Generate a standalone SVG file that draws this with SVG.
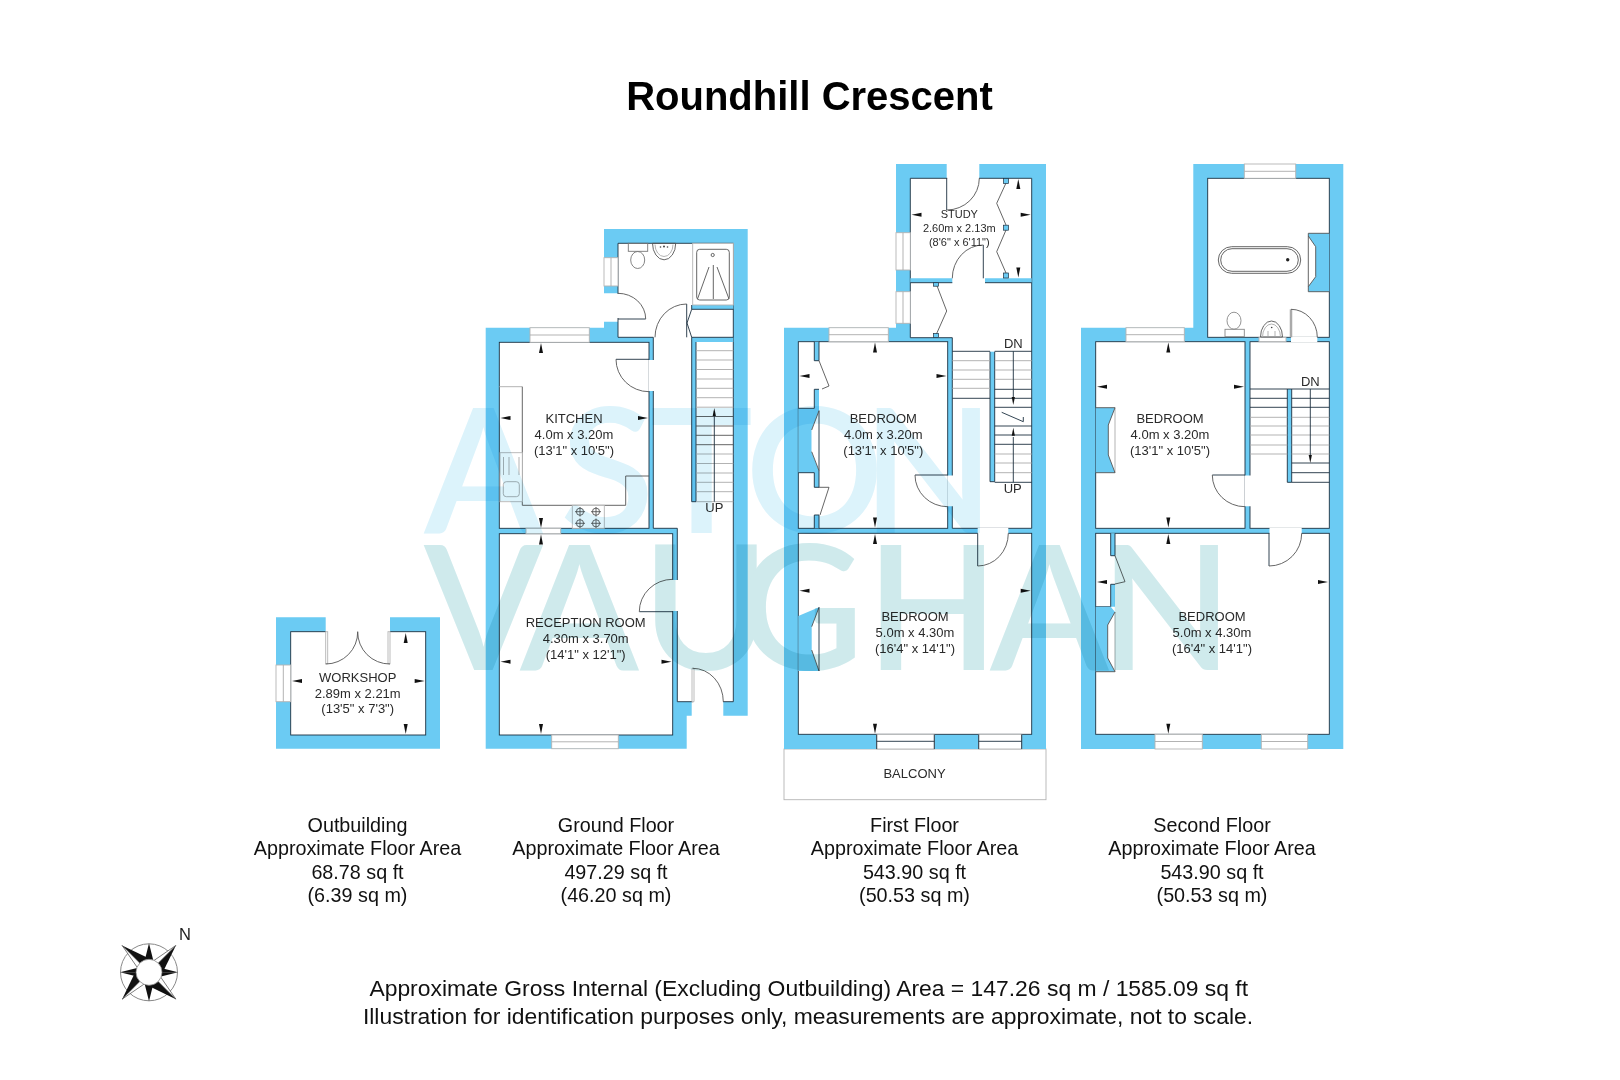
<svg xmlns="http://www.w3.org/2000/svg" width="1620" height="1080" viewBox="0 0 1620 1080">
<style>
text{font-family:"Liberation Sans",Arial,sans-serif;fill:#222}
.t{font-size:13px;text-anchor:middle;fill:#2a2a2a}
.s{font-size:11px;text-anchor:middle;fill:#2a2a2a}
.c{font-size:19.75px;text-anchor:middle;fill:#111}
.b{font-size:22.9px;text-anchor:middle;fill:#111}
.w{fill:#6bcbf3}
.r{fill:#fff;stroke:#1c3040;stroke-width:.9}
.g{fill:#fff;stroke:none}
.l{fill:none;stroke:#1c3040;stroke-width:.9}
.a{fill:none;stroke:#555;stroke-width:.9}
.h{fill:none;stroke:#aaa;stroke-width:.9}
.win{fill:#fff;stroke:#b4b4b4;stroke-width:.9}
.wm{font-family:Lato,"Open Sans",sans-serif;font-weight:600;font-size:173px}
</style>
<defs>
<path id="ar" d="M0,0L2,10H-2Z" fill="#111"/>
<g id="spk"><path d="M0,-38L10,-9L0,-9Z" fill="#111"/><path d="M0,-38L-5,-11L0,-11Z" fill="#fff" stroke="#333" stroke-width=".6"/></g>
<g id="spc"><path d="M0,-29L4.5,-11L0,-11Z" fill="#111"/><path d="M0,-29L-4.5,-11L0,-11Z" fill="#111"/></g>
</defs>

<text x="809.5" y="109.6" font-size="40" font-weight="700" text-anchor="middle" style="fill:#000">Roundhill Crescent</text>

<g id="outbuilding">
<path class="w" d="M276,617.3H325.7V631.7H390V617.3H440V748.7H276Z"/>
<rect class="r" x="290.7" y="631.7" width="135" height="103.3"/>
<path class="g" d="M326,630H390V633H326Z"/>
<rect class="win" x="276" y="665" width="14.7" height="36.7"/><path class="h" d="M283.3,665V701.7"/>
<rect class="win" x="325.7" y="631.7" width="2" height="32"/><rect class="win" x="388" y="631.7" width="2" height="32"/>
<path class="a" d="M325.7,664A32,32 0 0 0 357.7,631.7M390,664A32,32 0 0 1 357.7,631.7"/>
<use href="#ar" transform="translate(405.7,633)"/>
<use href="#ar" transform="translate(405.7,734) rotate(180)"/>
<use href="#ar" transform="translate(292,681) rotate(-90)"/>
<use href="#ar" transform="translate(424.7,681) rotate(90)"/>
<text class="t" x="357.7" y="681.7">WORKSHOP</text><text class="t" x="357.7" y="697.5">2.89m x 2.21m</text><text class="t" x="357.7" y="713.3">(13'5" x 7'3")</text>
</g>

<g id="ground-floor">
<path class="w" d="M485.7,327.7H604V321.7H618V293.3H604V229H747.7V715.7H723.3V701.7H691.7V715.7H686.7V748.7H485.7Z"/>
<path class="r" d="M618,243.3H733.3V701.7H677.3V528.3H653.3V337.3H618Z"/>
<path class="g" d="M617,294H619.5V318H617ZM693.2,700.5H723V703H693.2Z"/>
<path class="w" d="M691.7,305H733.3V309.3H691.7ZM691.7,337.3H733.3V342H696V501.7H691.7Z"/>
<path class="l" d="M691.7,309.3H733.3M691.7,337.3H733.3M691.7,305V309.3M691.7,337.3V501.7H696V342"/>
<rect class="r" x="499.3" y="342.3" width="149.7" height="186"/>
<rect class="r" x="499.3" y="533.7" width="173.4" height="201.3"/>
<path class="g" d="M648.4,360H654V391H648.4ZM672,580H678V611H672Z"/>
<rect class="win" x="526" y="528.3" width="34.7" height="5.4"/>
<rect class="win" x="530" y="327.7" width="59.3" height="14.6"/><path class="h" d="M530,335H589.3"/>
<rect class="win" x="604" y="257.7" width="14" height="28.3"/><path class="h" d="M611,257.7V286"/>
<rect class="win" x="551.7" y="735" width="66.6" height="13.7"/><path class="h" d="M551.7,741.8H618.3"/>
<path class="l" d="M616,359.3H649M639.3,611.7H672.7M618,319H645.7M686.7,304V337.3"/>
<path class="a" d="M616,359.3A33,32.4 0 0 0 649,391.7M639.3,611.7A33.4,32.4 0 0 1 672.7,579.3M618,293.3A27.7,25.7 0 0 1 645.7,319M655,337.3A31.7,33.3 0 0 1 686.7,304"/>
<path class="win" d="M692,668.3H694V701.7H692Z"/>
<path class="a" d="M692.7,668.3A30.6,33.4 0 0 1 723.3,701.7"/>
<path class="l" d="M691.7,309.3L687,323L691.7,337.3"/>
<path class="h" d="M499.3,386.7H522.3"/>
<path class="h" d="M522.3,386.7V505.3H625.7V476H649" style="stroke:#555"/>
<rect class="win" x="500" y="452.7" width="22.3" height="49"/>
<path class="h" d="M503.5,457V475M509,457V475M519,457V475"/>
<rect class="h" x="503.3" y="481.7" width="16" height="15" rx="3"/>
<rect class="win" x="572.3" y="505.3" width="32" height="23"/>
<g class="a"><circle cx="580" cy="511.7" r="3.6"/><circle cx="596" cy="511.7" r="3.6"/><circle cx="580" cy="523.3" r="3.6"/><circle cx="596" cy="523.3" r="3.6"/>
<path d="M575,511.7H585M580,507V516.5M591,511.7H601M596,507V516.5M575,523.3H585M580,518.5V528M591,523.3H601M596,518.5V528"/></g>
<rect class="win" x="692.7" y="243.3" width="40.6" height="61.7"/>
<rect class="a" x="696.7" y="249.3" width="32.6" height="50.7" rx="3"/>
<path class="a" d="M709,267L697.5,299M717,267L729,299M713.3,265V299"/><circle class="a" cx="712.7" cy="255" r="1.6"/>
<rect class="a" x="628.3" y="243.3" width="19.4" height="8" style="stroke:#777"/>
<ellipse class="a" cx="637.7" cy="260" rx="7" ry="8.5" style="stroke:#777"/>
<path class="a" d="M652.5,243.3A11.6,16.5 0 0 0 675.7,243.3Z" style="stroke:#555"/><path class="h" d="M655,244.5A9,12 0 0 0 673,244.5"/><circle cx="664" cy="246.5" r="1" fill="#444"/><circle cx="660.5" cy="247" r=".8" fill="#444"/><circle cx="667.5" cy="247" r=".8" fill="#444"/>
<g id="stairs-ground" class="h"><path d="M696,350.7H733.3M696,360H733.3M696,369.5H733.3M696,379H733.3M696,388.3H733.3M696,397.7H733.3M696,407.2H733.3"/><path style="stroke:#555" d="M696,416.5H733.3M696,426H733.3M696,435.3H733.3M696,444.7H733.3"/><path d="M696,454H733.3M696,463.5H733.3M696,473H733.3M696,482.3H733.3M696,491.7H733.3M696,501.7H733.3"/></g>
<path class="l" d="M714.3,501.7V411"/><use href="#ar" transform="translate(714.3,408) scale(.8)"/>
<use href="#ar" transform="translate(541,343)"/>
<use href="#ar" transform="translate(541,528) rotate(180)"/>
<use href="#ar" transform="translate(500.5,418) rotate(-90)"/>
<use href="#ar" transform="translate(648,418) rotate(90)"/>
<use href="#ar" transform="translate(541,534.5)"/>
<use href="#ar" transform="translate(541,734) rotate(180)"/>
<use href="#ar" transform="translate(500.5,661.7) rotate(-90)"/>
<use href="#ar" transform="translate(671.5,661.7) rotate(90)"/>
<text class="t" x="574" y="422.5">KITCHEN</text><text class="t" x="574" y="438.5">4.0m x 3.20m</text><text class="t" x="574" y="454.7">(13'1" x 10'5")</text>
<text class="t" x="585.7" y="626.5">RECEPTION ROOM</text><text class="t" x="585.7" y="642.5">4.30m x 3.70m</text><text class="t" x="585.7" y="658.5">(14'1" x 12'1")</text>
<text class="t" x="714.3" y="512.3">UP</text>
</g>

<g id="first-floor">
<rect x="784" y="749" width="262" height="50.7" fill="#fff" stroke="#b4b4b4" stroke-width=".9"/>
<path class="w" d="M784,327.7H896V164H946.7V178.3H979.3V164H1046V749H784Z"/>
<path class="r" d="M910.3,178.3H1031.7V528.3H952.3V337.7H910.3Z"/>
<path class="g" d="M947.2,177H979V179.5H947.2Z"/>
<path class="w" d="M910.3,278.3H952.3V282.7H910.3ZM985,278.3H1031.7V282.7H985Z"/>
<path class="l" d="M910.3,282.7H952.3M985,282.7H1031.7"/>
<rect class="r" x="798.3" y="341.7" width="149.4" height="186.6"/>
<rect class="r" x="798.3" y="533.3" width="233.4" height="201"/>
<path class="g" d="M947.2,475.5H953V506.2H947.2ZM977.7,527.8H1008.3V534H977.7Z"/>
<rect class="win" x="829" y="327.7" width="59.3" height="14"/><path class="h" d="M829,334.7H888.3"/>
<rect class="win" x="896" y="232.7" width="14.3" height="37.3"/><path class="h" d="M903,232.7V270"/>
<rect class="win" x="896" y="291.7" width="14.3" height="31.6"/><path class="h" d="M903,291.7V323.3"/>
<rect class="win" x="876.7" y="734.3" width="57.6" height="14.7"/><path class="l" d="M876.7,741.3H934.3M876.7,734.3V749M934.3,734.3V749"/>
<rect class="win" x="978.7" y="734.3" width="43" height="14.7"/><path class="l" d="M978.7,741.3H1021.7M978.7,734.3V749M1021.7,734.3V749"/>
<path class="w" d="M798.3,408.3H814.3V389.3H819V410.7L811.7,430V451.7L819,470.7V487.3H814.3V472.7H798.3Z"/>
<path class="w" d="M814.3,341.7H819V360.7H814.3ZM814.3,515H819V528.3H814.3Z"/>
<path class="g" d="M811.7,430L819,410.7V470.7L811.7,451.7Z"/>
<path class="l" d="M798.3,408.3H814.3V389.3H819M819,410.7V470.7M819,470.7V487.3H814.3V472.7H798.3M814.3,341.7V360.7H819V341.7M814.3,528.3V515H819V528.3"/>
<path class="a" d="M811.7,430L819,410.7M811.7,451.7L819,470.7"/>
<path class="a" d="M819,360.7L829,386L822,389M819,487.3H829L820,515"/>
<path class="w" d="M798.3,616L819,607.3V671H798.3Z"/>
<path class="g" d="M811.7,626.7L819,607.3V671L811.7,650Z"/>
<path class="a" d="M811.7,626.7L819,607.3M811.7,650L819,671"/><path class="l" d="M819,607.3V671"/>
<path class="l" d="M915,475H947.7M946.7,178.3V210M983.3,245V278.3M977.7,533.3V566"/>
<path class="a" d="M915,475A32.7,31.7 0 0 0 947.7,506.7M946.7,210A32.6,31.7 0 0 0 979.3,178.3M952.3,278.3A31,33.3 0 0 1 983.3,245M977.7,566A30.6,32.7 0 0 0 1008.3,533.3"/>
<path class="a" d="M1006,183L996.7,203.3L1006,225M1006,230L996.7,251.7L1006,273M936.5,284.5L946.7,311L936,335"/>
<g fill="#6bcbf3" stroke="#1c3040" stroke-width=".7"><rect x="1003.5" y="178.5" width="5" height="5"/><rect x="1003.5" y="225.2" width="5" height="5"/><rect x="1003.5" y="273" width="5" height="5"/><rect x="933.5" y="282.7" width="5" height="3.5"/><rect x="933.5" y="333.5" width="5" height="4"/></g>
<rect class="w" x="990" y="351.7" width="4.7" height="130"/><path class="l" d="M990,351.7V481.7H994.7V351.7"/>
<path class="l" d="M952.3,351.3H990M994.7,351.3H1031.7M952.3,398.3H990M994.7,389.3H1031.7M994.7,398.3H1031.7M994.7,407.3H1031.7M994.7,426H1031.7M994.7,435H1031.7M994.7,444.3H1031.7M994.7,482.3H1031.7"/>
<path class="h" d="M952.3,360.7H990M952.3,370H990M952.3,379.3H990M952.3,388.3H990M994.7,360.7H1031.7M994.7,370H1031.7M994.7,379.3H1031.7M994.7,454H1031.7M994.7,463H1031.7M994.7,472.7H1031.7"/>
<path class="l" d="M1013.3,351.3V398M1013.3,437V482.3M1001.7,412.3L1023.3,421.7V417"/>
<use href="#ar" transform="translate(1013.3,405) rotate(180) scale(.8)"/><use href="#ar" transform="translate(1013.3,427.7) scale(.8)"/>
<use href="#ar" transform="translate(911.5,214.7) rotate(-90)"/>
<use href="#ar" transform="translate(1030.7,214.7) rotate(90)"/>
<use href="#ar" transform="translate(1018.3,179)"/>
<use href="#ar" transform="translate(1018.3,277.5) rotate(180)"/>
<use href="#ar" transform="translate(875,342.5)"/>
<use href="#ar" transform="translate(875,527.5) rotate(180)"/>
<use href="#ar" transform="translate(799.5,376) rotate(-90)"/>
<use href="#ar" transform="translate(946.5,376) rotate(90)"/>
<use href="#ar" transform="translate(875,534)"/>
<use href="#ar" transform="translate(875,733.7) rotate(180)"/>
<use href="#ar" transform="translate(799.5,590.7) rotate(-90)"/>
<use href="#ar" transform="translate(1030.7,590.7) rotate(90)"/>
<text class="s" x="959.3" y="218.3">STUDY</text><text class="s" x="959.3" y="232.3">2.60m x 2.13m</text><text class="s" x="959.3" y="245.7">(8'6" x 6'11")</text>
<text class="t" x="883.3" y="422.5">BEDROOM</text><text class="t" x="883.3" y="438.7">4.0m x 3.20m</text><text class="t" x="883.3" y="454.7">(13'1" x 10'5")</text>
<text class="t" x="915" y="620.7">BEDROOM</text><text class="t" x="915" y="636.5">5.0m x 4.30m</text><text class="t" x="915" y="652.5">(16'4" x 14'1")</text>
<text class="t" x="914.5" y="778">BALCONY</text>
<text class="t" x="1013.3" y="348">DN</text><text class="t" x="1012.7" y="493.3">UP</text>
</g>

<g id="second-floor">
<path class="w" d="M1081,327.7H1193.3V164H1343.3V749H1081Z"/>
<rect class="r" x="1207.7" y="178.3" width="121.6" height="159"/>
<rect class="r" x="1250" y="341.7" width="79.3" height="186.6"/>
<rect class="r" x="1095.7" y="341.7" width="149.3" height="186.6"/>
<rect class="r" x="1095.7" y="533.3" width="233.6" height="201"/>
<path class="g" d="M1291,336.8H1317.3V342.3H1291ZM1244.5,475.5H1251V506.2H1244.5ZM1269.5,527.8H1301.7V534H1269.5Z"/>
<rect class="win" x="1244.3" y="164" width="51.4" height="14.3"/><path class="h" d="M1244.3,171.3H1295.7"/>
<rect class="win" x="1126" y="327.7" width="58.3" height="14"/><path class="h" d="M1126,334.7H1184.3"/>
<rect class="win" x="1155" y="734.3" width="47.3" height="14.7"/><path class="h" d="M1155,741.5H1202.3"/>
<rect class="win" x="1261.3" y="734.3" width="46.4" height="14.7"/><path class="h" d="M1261.3,741.5H1307.7"/>
<rect class="win" x="1259" y="337.3" width="27" height="4.4"/>
<path class="w" d="M1329.3,233.3H1308.3V236L1315.7,246.7V276.7L1308.3,286.7V291.7H1329.3Z"/>
<path class="a" d="M1329.3,233.3H1308.3V291.7H1329.3M1308.3,236L1315.7,246.7V276.7L1308.3,286.7"/>
<rect class="a" x="1218.3" y="246.7" width="82.4" height="26.6" rx="13.3"/><rect class="a" x="1220.7" y="248.7" width="77.6" height="22.6" rx="11.3"/><circle cx="1287.7" cy="259.7" r="1.7" fill="#222"/>
<rect class="a" x="1225" y="329.3" width="19.3" height="7.4" style="stroke:#888"/><ellipse class="a" cx="1234" cy="320.7" rx="7" ry="8.5" style="stroke:#888"/>
<path class="a" d="M1260.5,337A11,16 0 0 1 1282.5,337Z"/><path class="h" d="M1262.5,337A9,13 0 0 1 1280.5,337"/><path class="h" d="M1268,331V336M1275,331V336"/><circle cx="1271.7" cy="327.5" r=".8" fill="#444"/>
<path class="w" d="M1095.7,407.7H1115L1108.3,425V455L1115,472.7H1095.7Z"/><path class="h" d="M1115,407.7V472.7"/><path class="a" d="M1095.7,407.7H1115L1108.3,425V455L1115,472.7H1095.7"/>
<path class="w" d="M1110.7,533.3H1115V555.7H1110.7ZM1110.7,584.3H1115V606.7H1110.7Z"/>
<path class="l" d="M1110.7,533.3V555.7H1115V533.3M1110.7,606.7V584.3H1115M1095.7,606.7H1110.7"/>
<path class="a" d="M1115,555.7L1125,581.7L1115,584"/>
<path class="w" d="M1095.7,606.7H1110.7L1115,612L1107.7,625V658L1115,671.7H1095.7Z"/><path class="h" d="M1115,612V671.7"/><path class="a" d="M1115,612L1107.7,625V658L1115,671.7H1095.7"/>
<path class="l" d="M1212.3,475H1245M1269,533.3V566"/>
<path class="h" d="M1291,309.3V337.3" style="stroke-width:2.5"/>
<path class="a" d="M1212.3,475A32.7,31.7 0 0 0 1245,506.7M1269,566A32.7,32.7 0 0 0 1301.7,533.3M1291,309.3A26.3,28 0 0 1 1317.3,337.3"/>
<rect class="w" x="1287.3" y="389" width="4.4" height="93.3"/><path class="l" d="M1287.3,389V482.3H1291.7V389"/>
<path class="l" d="M1250,389H1329.3M1250,398.3H1287.3M1291.7,398.3H1329.3M1250,407.3H1287.3M1291.7,407.3H1329.3M1291.7,463H1329.3M1291.7,472.7H1329.3M1291.7,482.3H1329.3"/>
<path class="h" d="M1250,417.3H1287.3M1291.7,417.3H1329.3M1250,426H1287.3M1291.7,426H1329.3M1250,435H1287.3M1291.7,435H1329.3M1250,445H1287.3M1291.7,445H1329.3M1250,454H1287.3M1291.7,454H1329.3"/>
<path class="l" d="M1310.3,389V457"/><use href="#ar" transform="translate(1310.3,463) rotate(180) scale(.8)"/>
<use href="#ar" transform="translate(1168.3,342.5)"/>
<use href="#ar" transform="translate(1168.3,527.5) rotate(180)"/>
<use href="#ar" transform="translate(1097,386.7) rotate(-90)"/>
<use href="#ar" transform="translate(1244,386.7) rotate(90)"/>
<use href="#ar" transform="translate(1168.3,534)"/>
<use href="#ar" transform="translate(1168.3,733.7) rotate(180)"/>
<use href="#ar" transform="translate(1097,582) rotate(-90)"/>
<use href="#ar" transform="translate(1328,582) rotate(90)"/>
<text class="t" x="1170" y="422.5">BEDROOM</text><text class="t" x="1170" y="438.7">4.0m x 3.20m</text><text class="t" x="1170" y="454.7">(13'1" x 10'5")</text>
<text class="t" x="1212" y="620.7">BEDROOM</text><text class="t" x="1212" y="636.5">5.0m x 4.30m</text><text class="t" x="1212" y="652.5">(16'4" x 14'1")</text>
<text class="t" x="1310.3" y="385.7">DN</text>
</g>

<g id="watermark" style="mix-blend-mode:multiply">
<text class="wm" y="533" x="424 560 650 745 862" style="fill:#dcf3fb">ASTON</text>
<text class="wm" y="670" x="424 520 642 738 866 990 1100" style="fill:#cfeaec">VAUGHAN</text>
</g>

<g id="captions">
<text class="c" x="357.5" y="832">Outbuilding</text><text class="c" x="357.5" y="855.3">Approximate Floor Area</text><text class="c" x="357.5" y="878.6">68.78 sq ft</text><text class="c" x="357.5" y="902">(6.39 sq m)</text>
<text class="c" x="616" y="832">Ground Floor</text><text class="c" x="616" y="855.3">Approximate Floor Area</text><text class="c" x="616" y="878.6">497.29 sq ft</text><text class="c" x="616" y="902">(46.20 sq m)</text>
<text class="c" x="914.5" y="832">First Floor</text><text class="c" x="914.5" y="855.3">Approximate Floor Area</text><text class="c" x="914.5" y="878.6">543.90 sq ft</text><text class="c" x="914.5" y="902">(50.53 sq m)</text>
<text class="c" x="1212" y="832">Second Floor</text><text class="c" x="1212" y="855.3">Approximate Floor Area</text><text class="c" x="1212" y="878.6">543.90 sq ft</text><text class="c" x="1212" y="902">(50.53 sq m)</text>
<text class="b" x="808.7" y="996">Approximate Gross Internal (Excluding Outbuilding) Area = 147.26 sq m / 1585.09 sq ft</text>
<text class="b" x="808" y="1023.6">Illustration for identification purposes only, measurements are approximate, not to scale.</text>
</g>

<g id="compass" transform="translate(149,972.3)">
<circle r="28.5" fill="none" stroke="#888" stroke-width="1"/>
<use href="#spk" transform="rotate(-45)"/><use href="#spk" transform="rotate(45)"/><use href="#spk" transform="rotate(135)"/><use href="#spk" transform="rotate(225)"/>
<use href="#spc"/><use href="#spc" transform="rotate(90)"/><use href="#spc" transform="rotate(180)"/><use href="#spc" transform="rotate(270)"/>
<circle r="13" fill="#fff" stroke="#888" stroke-width=".8"/>
</g>
<text x="185" y="939.7" font-size="16.5" text-anchor="middle" style="fill:#222">N</text>
</svg>
